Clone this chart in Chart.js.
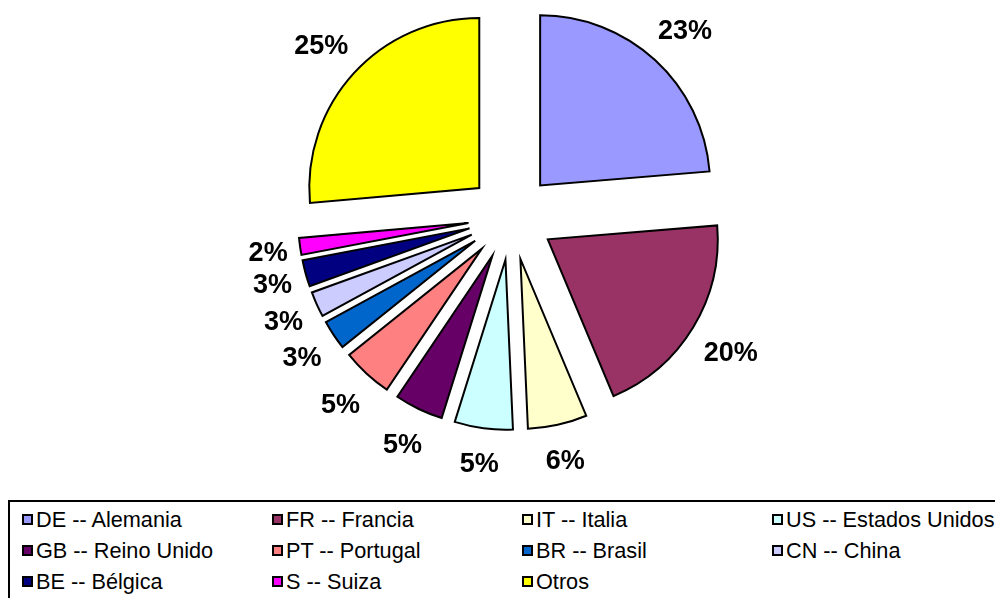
<!DOCTYPE html>
<html lang="es">
<head>
<meta charset="utf-8">
<title>Distribución por país</title>
<script src="https://cdn.jsdelivr.net/npm/chart.js@4.4.1/dist/chart.umd.min.js"></script>
<style>
    html, body { margin: 0; padding: 0; background: #fff; overflow: hidden; }
    #contenedor { position: relative; width: 995px; height: 598px; overflow: hidden; }
    #graficoTorta { position: absolute; left: 0; top: 0; }
    #leyenda {
        position: absolute; left: 8px; top: 500px;
        width: 1010px; height: 120px;
        border: 2px solid #000; box-sizing: border-box;
        display: grid; grid-template-columns: repeat(4, 250px); grid-auto-rows: 31px;
        padding: 2px 0 0 12px;
        font: 21.7px 'Liberation Sans', Arial, sans-serif; color: #000;
    }
    .item { display: flex; align-items: center; white-space: nowrap; }
    .cuadro { width: 11px; height: 11px; border: 2px solid #000; box-sizing: border-box; margin-right: 3px; flex: none; }
</style>
</head>
<body>
<div id="contenedor">
    <canvas id="graficoTorta" width="995" height="500"></canvas>
    <div id="leyenda"></div>
</div>
<script>
// Datos
const paises = [
    'DE -- Alemania', 'FR -- Francia', 'IT -- Italia', 'US -- Estados Unidos',
    'GB -- Reino Unido', 'PT -- Portugal', 'BR -- Brasil', 'CN -- China',
    'BE -- Bélgica', 'S -- Suiza', 'Otros'
];
const participacion = [23.6, 19.9, 5.6, 5.5, 4.6, 4.8, 2.8, 2.4, 2.5, 1.6, 26.3]; // tamaño de cada porción
const etiquetasPct = ['23%', '20%', '6%', '5%', '5%', '5%', '3%', '3%', '3%', '2%', '25%']; // textos de las etiquetas
const colores = [
    '#9999FF', '#993366', '#FFFFCC', '#CCFFFF', '#660066', '#FF8080',
    '#0066CC', '#CCCCFF', '#000080', '#FF00FF', '#FFFF00'
];

const SEPARACION = 43; // px que se separa cada porción del centro

// Dibuja cada porción desplazada hacia afuera (torta "explotada")
const explotar = {
    id: 'explotar',
    beforeDatasetDraw(chart, args) {
        const ctx = chart.ctx;
        args.meta.data.forEach(arco => {
            const medio = (arco.startAngle + arco.endAngle) / 2;
            ctx.save();
            ctx.translate(Math.cos(medio) * SEPARACION, Math.sin(medio) * SEPARACION);
            arco.draw(ctx);
            ctx.restore();
        });
        return false; // ya lo dibujamos nosotros
    }
};

// Etiquetas de porcentaje fuera de cada porción
const etiquetas = {
    id: 'etiquetas',
    afterDatasetsDraw(chart) {
        const ctx = chart.ctx;
        const meta = chart.getDatasetMeta(0);
        ctx.save();
        ctx.font = "bold 27px 'Liberation Sans', Arial, sans-serif";
        ctx.fillStyle = '#000';
        ctx.textAlign = 'center';
        ctx.textBaseline = 'middle';
        meta.data.forEach((arco, i) => {
            const medio = (arco.startAngle + arco.endAngle) / 2;
            const dx = Math.cos(medio), dy = Math.sin(medio);
            const texto = etiquetasPct[i];
            const ancho = ctx.measureText(texto).width;
            const dist = SEPARACION + arco.outerRadius + 10 + Math.abs(dx) * ancho / 2 + Math.abs(dy) * 21;
            ctx.fillText(texto, arco.x + dx * dist, arco.y + dy * dist + 3);
        });
        ctx.restore();
    }
};

const ctx = document.getElementById('graficoTorta').getContext('2d');
new Chart(ctx, {
    type: 'pie',
    data: {
        labels: paises,
        datasets: [{
            data: participacion,
            backgroundColor: colores,
            borderColor: '#000',
            borderWidth: 2,
            borderJoinStyle: 'miter',
            radius: 170
        }]
    },
    options: {
        responsive: false,
        animation: false,
        layout: { padding: { left: 27, right: 0, top: 0, bottom: 66 } },
        plugins: {
            legend: { display: false },
            tooltip: { enabled: false }
        }
    },
    plugins: [explotar, etiquetas]
});

// Leyenda en cuadrícula de 4 columnas
const leyenda = document.getElementById('leyenda');
paises.forEach((pais, i) => {
    const item = document.createElement('div');
    item.className = 'item';
    const cuadro = document.createElement('span');
    cuadro.className = 'cuadro';
    cuadro.style.background = colores[i];
    const texto = document.createElement('span');
    texto.textContent = pais;
    item.appendChild(cuadro);
    item.appendChild(texto);
    leyenda.appendChild(item);
});
</script>
</body>
</html>
